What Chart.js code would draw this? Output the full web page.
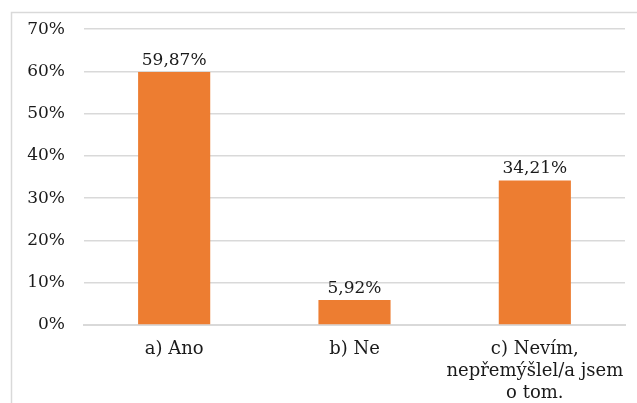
<!DOCTYPE html>
<html>
<head>
<meta charset="utf-8">
<script src="https://cdn.jsdelivr.net/npm/chart.js@4/dist/chart.umd.min.js"></script>
<style>
    html, body { margin: 0; padding: 0; background: #fff; }
    #wrap { width: 637px; height: 403px; position: relative; }
</style>
</head>
<body>
<div id="wrap"><canvas id="answerChart"></canvas></div>
<script>
// Chart data
const categories = ['a) Ano', 'b) Ne', ['c) Nevím,', 'nepřemýšlel/a jsem', 'o tom.']];
const shares = [59.87, 5.92, 34.21];
const yTicks = [0, 10, 20, 30, 40, 50, 60, 70];

const textColor = '#1a1a1a';
const gridColor = '#d9d9d9';
const fontFamily = "'DejaVu Serif', serif";

const fmtPct = v => v.toFixed(2).replace('.', ',') + '%';

// Frame around the chart (extends past the right and bottom edges)
const framePlugin = {
    id: 'frame',
    beforeDraw(chart) {
        const ctx = chart.ctx;
        ctx.save();
        ctx.strokeStyle = gridColor;
        ctx.lineWidth = 1.5;
        ctx.beginPath();
        ctx.moveTo(11.5, chart.height);
        ctx.lineTo(11.5, 12.5);
        ctx.lineTo(chart.width, 12.5);
        ctx.stroke();
        ctx.restore();
    }
};

// Value labels above each bar
const valueLabels = {
    id: 'valueLabels',
    afterDatasetsDraw(chart) {
        const ctx = chart.ctx;
        const meta = chart.getDatasetMeta(0);
        ctx.save();
        ctx.font = '17px ' + fontFamily;
        ctx.fillStyle = textColor;
        ctx.textAlign = 'center';
        ctx.textBaseline = 'alphabetic';
        meta.data.forEach((bar, i) => {
            ctx.fillText(fmtPct(shares[i]), bar.x, bar.y - 7);
        });
        ctx.restore();
    }
};

new Chart(document.getElementById('answerChart'), {
    type: 'bar',
    data: {
        labels: categories,
        datasets: [{
            data: shares,
            backgroundColor: '#ED7D31',
            borderWidth: 0,
            barPercentage: 0.4,
            categoryPercentage: 1.0
        }]
    },
    options: {
        responsive: true,
        maintainAspectRatio: false,
        animation: false,
        layout: { padding: { left: 11, right: 12, top: 24, bottom: 0 } },
        plugins: {
            legend: { display: false },
            tooltip: { enabled: false }
        },
        scales: {
            x: {
                grid: { display: false },
                border: { display: true, color: gridColor, width: 2 },
                ticks: {
                    color: textColor,
                    padding: 6,
                    maxRotation: 0,
                    autoSkip: false,
                    font: { family: fontFamily, size: 18, lineHeight: 1.2 }
                },
                afterFit: scale => { scale.height = 78; }
            },
            y: {
                min: 0,
                max: 70,
                afterBuildTicks: scale => {
                    scale.ticks = yTicks.map(v => ({ value: v }));
                },
                grid: { color: gridColor, lineWidth: 1.5, drawTicks: false },
                border: { display: false },
                ticks: {
                    color: textColor,
                    padding: 19,
                    callback: v => v + '%',
                    font: { family: fontFamily, size: 17 }
                },
                afterFit: scale => { scale.width = 73; }
            }
        }
    },
    plugins: [framePlugin, valueLabels]
});
</script>
</body>
</html>
